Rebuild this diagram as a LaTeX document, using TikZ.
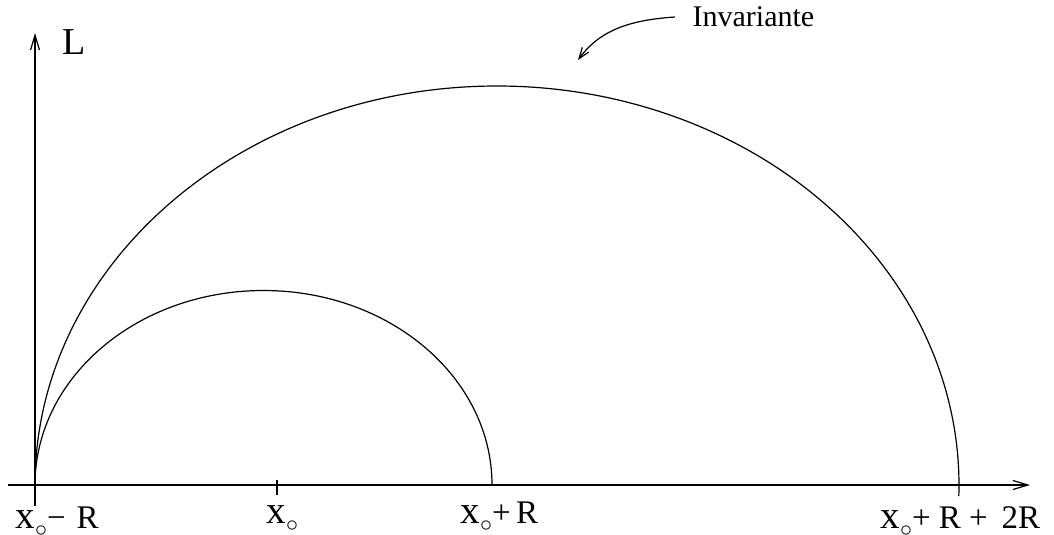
\documentclass[tikz,border=0pt]{standalone}
\usepackage{fontspec}
\setmainfont{Liberation Serif}
\usetikzlibrary{arrows.meta}
\newcommand{\xsub}{{\fontsize{19.5}{19.5}\selectfont x}\raisebox{-0.55ex}{\fontsize{12.5}{12.5}\selectfont$\circ$}}
\begin{document}
\begin{tikzpicture}[
        x=0.5pt, y=-0.5pt,
        line width=0.6pt,
        axis/.style={draw, -{Straight Barb[length=7.5pt,width=4.5pt]}},
        pointer/.style={draw, -{Straight Barb[length=5.5pt,width=4pt]}},
        lbl/.style={inner sep=0pt, anchor=base west, font=\fontsize{16.5}{16.5}\selectfont},
    ]
    \useasboundingbox (0,0) rectangle (1054,535);
    % axes
    \coordinate (O) at (35,485);
    \coordinate (ybot) at (35,506);
    \coordinate (ytop) at (35,33);
    \coordinate (xleft) at (8,485);
    \coordinate (xright) at (1030,485);
    \draw[axis] (ybot) -- (ytop);
    \draw[axis] (xleft) -- (xright);
    % tick at x0
    \coordinate (tka) at (277,480);
    \coordinate (tkb) at (277,495);
    \draw (tka) -- (tkb);
    % the two arcs
    \draw (O) arc[start angle=180, end angle=0, x radius=114.25pt, y radius=97.25pt];
    \draw (O) arc[start angle=180, end angle=-1.6, x radius=231pt, y radius=199.5pt];
    % labels
    \node[lbl, font=\fontsize{19}{19}\selectfont] (L) at (62,55) {L};
    \node[lbl] (xmr) at (15,528) {\xsub−\,\,R};
    \node[lbl] (xo) at (266,523) {\xsub};
    \node[lbl] (xpr) at (460,523) {\xsub+\,R};
    \node[lbl] (xprr) at (880,528) {\xsub+ R + \,2R};
    \node[lbl, font=\fontsize{15}{15}\selectfont] (inv) at (692,27) {Invariante};
    % pointer to the invariant curve
    \coordinate (pa) at (675,17);
    \coordinate (pb) at (578,60);
    \draw[pointer] (pa) .. controls (630,20) and (600,30) .. (pb);
\end{tikzpicture}
\end{document}
